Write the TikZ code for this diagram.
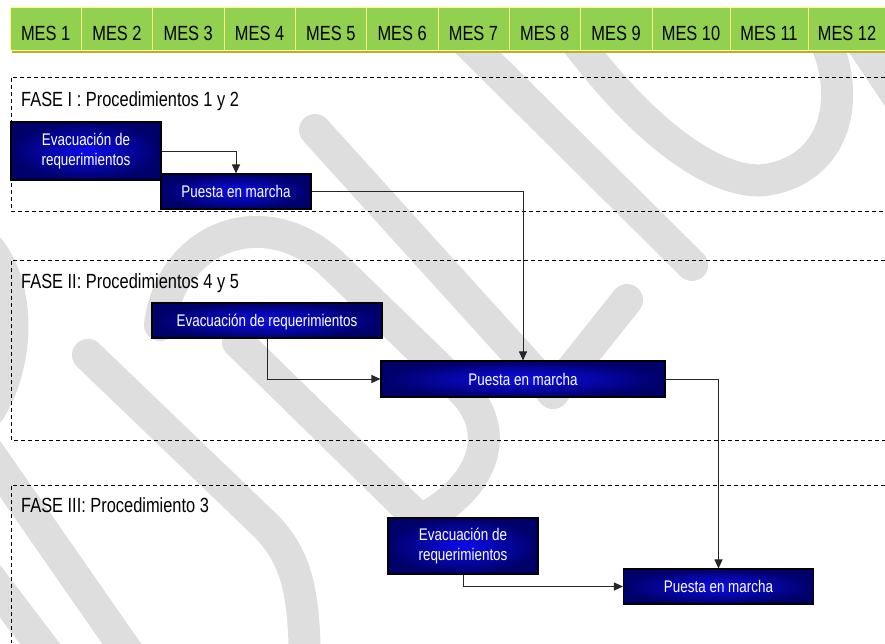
\documentclass[tikz,border=0pt]{standalone}
\usepackage{fontspec}
\setmainfont{Liberation Sans}[FakeStretch=0.8]
\definecolor{mesgreen}{HTML}{92D050}
\definecolor{mesline}{HTML}{FFFF80}
\definecolor{messhadow}{HTML}{B4AE3A}
\definecolor{boxnavy}{HTML}{00006A}
\definecolor{boxblue}{HTML}{0C0CEA}
\definecolor{wmgray}{HTML}{DEDEDE}
\usetikzlibrary{arrows.meta, positioning}

\begin{document}
\begin{tikzpicture}[x=1pt, y=-1pt,
  mes/.style={draw=mesline, fill=mesgreen, minimum height=43pt, inner sep=0pt,
              text height=24.7pt, text depth=0pt, font=\fontsize{20.5}{23}\selectfont},
  tarea/.style={draw=black, line width=1.1pt, inner color=boxblue, outer color=boxnavy,
                text=white, align=center, inner sep=0pt, font=\fontsize{16.8}{20}\selectfont},
  tareauna/.style={text height=12pt, text depth=0pt},
  fase/.style={anchor=base west, inner sep=0pt, font=\fontsize{20.5}{23}\selectfont},
  marco/.style={line width=0.9pt, dash pattern=on 4pt off 3pt},
  flecha/.style={-{Triangle[length=9pt,width=8pt]}, line width=1pt, black!85},
  marca/.style={wmgray, line width=32pt, line cap=round, line join=round},
]
  \useasboundingbox (0,0) rectangle (885,643);

  \begin{scope}
    \clip (0,0) rectangle (885,643);
    \draw[marca] (88,355) -- (265,525) .. controls (300,560) and (305,600) .. (305,680);
    \draw[marca] (160,325) .. controls (170,240) and (260,200) .. (330,262)
      -- (462,390) .. controls (500,428) and (488,480) .. (430,515);
    \draw[marca] (238,342) -- (420,520);
    \draw[marca] (315,130) -- (553,393) -- (627,300);
    \draw[marca] (455,30) -- (692,265);
    \draw[marca] (575,40) .. controls (650,140) and (720,185) .. (765,180)
      .. controls (835,170) and (852,100) .. (825,40);
    \draw[marca] (860,40) -- (900,100);
    \draw[marca] (-20,440) -- (140,670);
    \draw[marca] (-20,565) -- (60,670);
    \draw[marca] (-10,250) .. controls (20,290) and (20,360) .. (-10,410);
  \end{scope}

  \draw[marco] (885,77) -- (11,77) -- (11,211) -- (885,211);
  \draw[marco] (885,260) -- (11,260) -- (11,440) -- (885,440);
  \draw[marco] (885,485) -- (11,485) -- (11,643);

  \fill[messhadow] (12,10) rectangle (885,53);
  \foreach \i in {1,...,9}
    \node[mes, minimum width=71.3pt] (mes\i) at ({10+71.3*(\i-0.5)},28.5) {MES \i};
  \foreach \i in {10,11,12}
    \node[mes, minimum width=78pt] (mes\i) at ({652+78*(\i-9.5)},28.5) {MES \i};

  \node[fase] (f1) at (21,106) {FASE I : Procedimientos 1 y 2};
  \node[fase] (f2) at (21,288) {FASE II: Procedimientos 4 y 5};
  \node[fase] (f3) at (21,512) {FASE III: Procedimiento 3};

  \node[tarea, minimum width=150pt, minimum height=58pt] (ev1) at (86,151) {Evacuación de\\requerimientos};
  \node[tarea, tareauna, minimum width=150pt, minimum height=35pt] (pm1) at (236,191.5) {Puesta en marcha};
  \node[tarea, tareauna, minimum width=230pt, minimum height=35pt] (ev2) at (267,320.5) {Evacuación de requerimientos};
  \node[tarea, tareauna, minimum width=284pt, minimum height=36pt] (pm2) at (523,379) {Puesta en marcha};
  \node[tarea, minimum width=150pt, minimum height=56pt] (ev3) at (463,546) {Evacuación de\\requerimientos};
  \node[tarea, tareauna, minimum width=190pt, minimum height=35pt] (pm3) at (718.5,586.5) {Puesta en marcha};

  \draw[flecha] (ev1.east) -| (pm1.north);
  \draw[flecha] (pm1.east) -| (pm2.north);
  \draw[flecha] (ev2.south) |- (pm2.west);
  \draw[flecha] (pm2.east) -| (pm3.north);
  \draw[flecha] (ev3.south) |- (pm3.west);
\end{tikzpicture}
\end{document}
